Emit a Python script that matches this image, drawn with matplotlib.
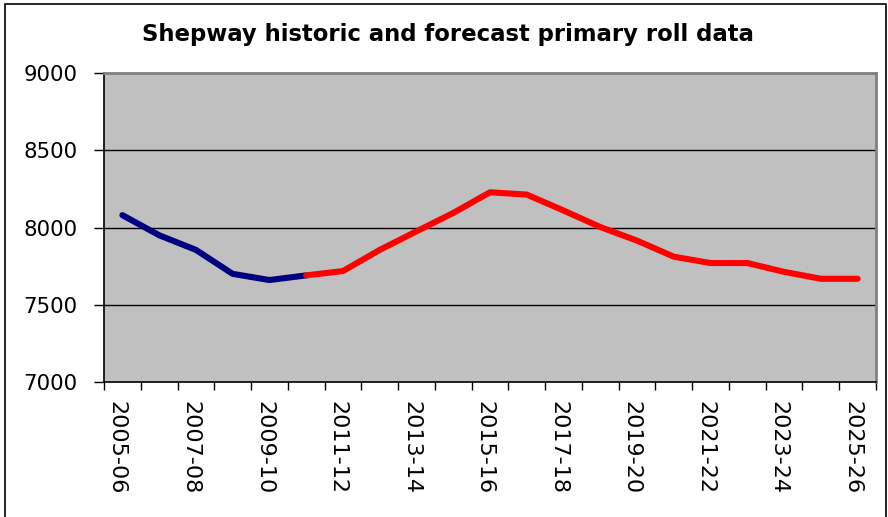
import matplotlib
matplotlib.use("Agg")
import matplotlib.pyplot as plt
from matplotlib.patches import Rectangle

years = ["2005-06", "2006-07", "2007-08", "2008-09", "2009-10", "2010-11",
         "2011-12", "2012-13", "2013-14", "2014-15", "2015-16", "2016-17",
         "2017-18", "2018-19", "2019-20", "2020-21", "2021-22", "2022-23",
         "2023-24", "2024-25", "2025-26"]

historic_years = years[:6]
historic = [8080, 7950, 7855, 7700, 7660, 7690]

forecast_years = years[5:]
forecast = [7690, 7718, 7855, 7975, 8094, 8228, 8213, 8110, 8003, 7915,
            7811, 7770, 7770, 7713, 7668, 7668]

y_ticks = [7000, 7500, 8000, 8500, 9000]

W, H = 888, 517
fig = plt.figure(figsize=(W / 100, H / 100), dpi=100)
fig.patch.set_facecolor("white")

left, right, top, bottom = 104, 876, 73, 382
ax = fig.add_axes([left / W, 1 - bottom / H, (right - left) / W, (bottom - top) / H])
ax.set_facecolor("#C0C0C0")

idx = {y: i for i, y in enumerate(years)}
ax.plot([idx[y] for y in historic_years], historic, color="#000080",
        lw=4.4, solid_capstyle="round", solid_joinstyle="round", zorder=3)
ax.plot([idx[y] for y in forecast_years], forecast, color="#FF0000",
        lw=4.4, solid_capstyle="round", solid_joinstyle="round", zorder=3)

ax.set_xlim(-0.5, len(years) - 0.5)
ax.set_ylim(7000, 9000)
ax.set_yticks(y_ticks)
ax.set_yticklabels([str(v) for v in y_ticks], fontsize=15.3)
for v in y_ticks[1:-1]:
    ax.axhline(v, color="black", lw=1.0, zorder=1)

# tick marks sit on category boundaries; labels on every other category,
# nudged slightly left so the rotated glyphs sit centred on their category
ax.set_xticks([i - 0.5 for i in range(len(years) + 1)])
ax.set_xticklabels([])
ax.set_xticks([i - 0.15 for i in range(0, len(years), 2)], minor=True)
ax.set_xticklabels(years[::2], minor=True, rotation=270, fontsize=16,
                   va="top", ha="center")
ax.tick_params(axis="x", which="major", direction="out", length=6, width=1, color="black")
ax.tick_params(axis="x", which="minor", length=0, pad=14)
ax.tick_params(axis="y", direction="out", length=7, width=1, color="black", pad=12)

for s in ("top", "right"):
    ax.spines[s].set_color("#808080")
    ax.spines[s].set_linewidth(2)
for s in ("left", "bottom"):
    ax.spines[s].set_color("black")
    ax.spines[s].set_linewidth(1.2)

fig.text(448 / W, 1 - 35 / H, "Shepway historic and forecast primary roll data",
         ha="center", va="center", fontsize=16.4, fontweight="bold")

fig.patches.append(Rectangle((4.5 / W, -0.05), (885.5 - 4.5) / W, 1.05 - 4 / H,
                             transform=fig.transFigure, fill=False,
                             edgecolor="black", lw=1.2, clip_on=False))

fig.savefig("out.png", dpi=100)
